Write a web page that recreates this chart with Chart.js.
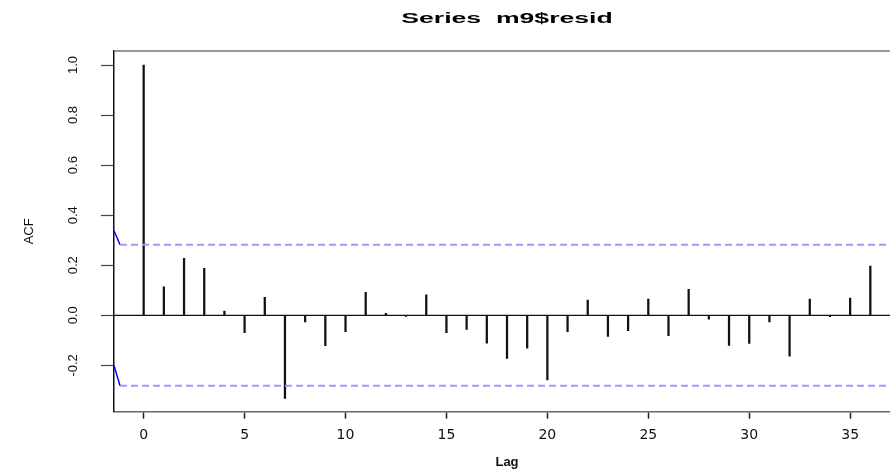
<!DOCTYPE html>
<html>
<head>
<meta charset="utf-8">
<script src="https://cdn.jsdelivr.net/npm/chart.js@4"></script>
<style>
  html, body { margin: 0; padding: 0; background: #fff; overflow: hidden; }
  canvas { display: block; }
</style>
</head>
<body>
<canvas id="acf" width="905" height="475"></canvas>
<script>
// ACF of m9$resid, lags 0..36
const lags = [0, 1, 2, 3, 4, 5, 6, 7, 8, 9, 10, 11, 12, 13, 14, 15, 16, 17, 18,
  19, 20, 21, 22, 23, 24, 25, 26, 27, 28, 29, 30, 31, 32, 33, 34, 35, 36];
const acfValues = [1.0, 0.114, 0.228, 0.188, 0.017, -0.069, 0.072, -0.332, -0.026,
  -0.121, -0.065, 0.092, 0.008, -0.004, 0.082, -0.069, -0.056, -0.111, -0.172,
  -0.131, -0.258, -0.065, 0.061, -0.084, -0.061, 0.065, -0.081, 0.104, -0.015,
  -0.12, -0.112, -0.026, -0.163, 0.065, -0.005, 0.069, 0.197];

// confidence band + the little blue stubs at the left edge
const ciUpper = 0.282;
const ciLower = -0.281;
const stubUpper = 0.338;
const stubLower = -0.2;

// axis ranges and tick labels
const xRange = [-1.47, 37.47];
const yRange = [-0.385, 1.056];
const xTicks = [0, 5, 10, 15, 20, 25, 30, 35];
const yTicks = [-0.2, 0, 0.2, 0.4, 0.6, 0.8, 1.0];

const mainTitle = "Series  m9$resid";

const ciStart = xRange[0] + 0.3;

// R-style stretched bold title over the plot box
const titlePlugin = {
  id: "rtitle",
  afterDraw(chart) {
    const { ctx, chartArea } = chart;
    const cx = (chartArea.left + chartArea.right) / 2;
    ctx.save();
    ctx.font = "bold 14px Arial, 'Liberation Sans', sans-serif";
    ctx.fillStyle = "#000";
    ctx.textAlign = "center";
    ctx.textBaseline = "middle";
    ctx.translate(cx, 19.5);
    ctx.scale(1.9, 1);
    ctx.fillText(mainTitle, 0, 0);
    ctx.restore();

    // top border of the box
    ctx.save();
    ctx.strokeStyle = "#777";
    ctx.lineWidth = 1.5;
    ctx.beginPath();
    ctx.moveTo(chartArea.left, chartArea.top);
    ctx.lineTo(chartArea.right, chartArea.top);
    ctx.stroke();
    ctx.restore();
  }
};

new Chart(document.getElementById("acf"), {
  type: "bar",
  data: {
    datasets: [
      {
        type: "bar",
        data: lags.map((l, i) => ({ x: l, y: acfValues[i] })),
        backgroundColor: "#111",
        barThickness: 1.6,
        grouped: false,
        order: 1
      },
      {
        type: "line",
        data: [{ x: xRange[0], y: 0 }, { x: xRange[1], y: 0 }],
        borderColor: "#111",
        borderWidth: 1.2,
        pointRadius: 0,
        order: 2
      },
      {
        type: "line",
        data: [{ x: ciStart, y: ciUpper }, { x: xRange[1], y: ciUpper }],
        borderColor: "#9a9aff",
        borderWidth: 2,
        borderDash: [7, 4],
        pointRadius: 0,
        order: 0
      },
      {
        type: "line",
        data: [{ x: ciStart, y: ciLower }, { x: xRange[1], y: ciLower }],
        borderColor: "#9a9aff",
        borderWidth: 2,
        borderDash: [7, 4],
        pointRadius: 0,
        order: 0
      },
      {
        type: "line",
        data: [{ x: xRange[0], y: stubUpper }, { x: ciStart, y: ciUpper }],
        borderColor: "#0000ff",
        borderWidth: 1.5,
        pointRadius: 0,
        order: 0
      },
      {
        type: "line",
        data: [{ x: xRange[0], y: stubLower }, { x: ciStart, y: ciLower }],
        borderColor: "#0000ff",
        borderWidth: 1.5,
        pointRadius: 0,
        order: 0
      }
    ]
  },
  options: {
    responsive: false,
    animation: false,
    devicePixelRatio: 1,
    layout: { padding: { top: 51, right: 5, left: 0, bottom: 0 } },
    plugins: {
      legend: { display: false },
      tooltip: { enabled: false },
      title: { display: false }
    },
    scales: {
      x: {
        type: "linear",
        offset: false,
        min: xRange[0],
        max: xRange[1],
        afterBuildTicks: s => { s.ticks = xTicks.map(v => ({ value: v })); },
        afterFit: s => { s.height = 63.3; },
        grid: {
          display: true,
          drawOnChartArea: false,
          drawTicks: true,
          tickLength: 7,
          tickColor: "#222",
          tickWidth: 1.5,
          offset: false
        },
        border: { display: true, color: "#666", width: 1.5 },
        ticks: {
          color: "#111",
          font: { family: "'DejaVu Sans', Arial, sans-serif", size: 14 },
          padding: 8,
          maxRotation: 0,
          minRotation: 0,
          callback: v => String(v)
        },
        title: {
          display: true,
          text: "Lag",
          color: "#111",
          font: { family: "Arial, 'Liberation Sans', sans-serif", size: 13, weight: "bold" },
          padding: { top: 0, bottom: 5 }
        }
      },
      y: {
        type: "linear",
        min: yRange[0],
        max: yRange[1],
        afterBuildTicks: s => { s.ticks = yTicks.map(v => ({ value: v })); },
        afterFit: s => { s.width = 114; },
        grid: {
          display: true,
          drawOnChartArea: false,
          drawTicks: true,
          tickLength: 13,
          tickColor: "#444",
          tickWidth: 1.2
        },
        border: { display: true, color: "#111", width: 1.5 },
        ticks: {
          color: "#111",
          font: { family: "Arial, 'Liberation Sans', sans-serif", size: 13 },
          padding: 16,
          crossAlign: "center",
          minRotation: 90,
          maxRotation: 90,
          callback: v => Number(v).toFixed(1)
        },
        title: {
          display: true,
          text: "ACF",
          color: "#111",
          font: { family: "Arial, 'Liberation Sans', sans-serif", size: 13 },
          padding: { top: 22, bottom: 0 }
        }
      }
    }
  },
  plugins: [titlePlugin]
});
</script>
</body>
</html>
